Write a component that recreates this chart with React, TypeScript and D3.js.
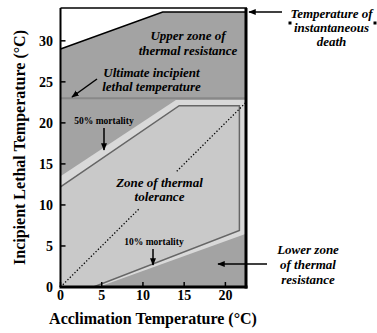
import React from "react";
import * as d3 from "d3";

// axis ticks
const xTicks = [0, 5, 10, 15, 20];
const yTicks = [0, 5, 10, 15, 20, 25, 30];
const xMax = 22.5;
const yMax = 34;

// zone boundaries (acclimation temp, lethal temp)
const upperZone: [number, number][] = [[0, 29.0], [12.4, 33.5], [22.5, 33.5]];
const ultimateLethal = 23.0;
const toleranceOuter: [number, number][] = [[0, 13.5], [14.0, 22.8], [22.5, 22.8], [22.5, 6.5], [4.6, 0], [0, 0]];
const mortality50: [number, number][] = [[0, 12.2], [14.4, 22.1], [21.7, 22.1], [21.7, 6.9]];
const mortality10: [number, number][] = [[21.7, 6.9], [4.0, 0]];
// dotted 1:1 line, broken where the label sits
const isoSegments: [number, number][][] = [[[0, 0], [9.6, 9.6]], [[14.1, 14.1], [22.8, 22.8]]];

const serif = "'Liberation Serif', 'Times New Roman', serif";

export default function App() {
  const x = d3.scaleLinear().domain([0, xMax]).range([60.5, 246]);
  const y = d3.scaleLinear().domain([0, yMax]).range([287, 8]);
  const line = d3.line<[number, number]>().x(d => x(d[0])).y(d => y(d[1]));

  const whiteTop: [number, number][] = [...upperZone, [xMax, yMax], [0, yMax]];
  const inner: [number, number][] = [...mortality50, ...mortality10, [0, 0]];
  const mortPath: [number, number][] = [...mortality50, ...mortality10.slice(1)];

  const bi = { fontFamily: serif, fontWeight: "bold", fontStyle: "italic", fontSize: 13 } as const;
  const small = { fontFamily: serif, fontWeight: "bold", fontSize: 9.5 } as const;

  return (
    <svg width={377} height={333} style={{ position: "absolute", left: 0, top: 0, background: "#fff" }}>
      <defs>
        <clipPath id="plot">
          <rect x={x(0)} y={y(yMax)} width={x(xMax) - x(0)} height={y(0) - y(yMax)} />
        </clipPath>
        <marker id="ah" viewBox="0 0 10 10" refX="9" refY="5" markerWidth="5" markerHeight="5" orient="auto">
          <path d="M0,1 L10,5 L0,9 Z" fill="#000" />
        </marker>
      </defs>

      <g clipPath="url(#plot)">
        <rect x={x(0)} y={y(yMax)} width={x(xMax) - x(0)} height={y(0) - y(yMax)} fill="#a3a3a3" />
        <path d={line(whiteTop) + "Z"} fill="#fff" />
        <path d={line(upperZone) || ""} fill="none" stroke="#000" strokeWidth={1.5} />
        <line x1={x(0)} x2={x(xMax)} y1={y(ultimateLethal)} y2={y(ultimateLethal)} stroke="#888" strokeWidth={1.8} />
        <path d={line(toleranceOuter) + "Z"} fill="#d9d9d9" />
        <path d={line(inner) + "Z"} fill="#c9c9c9" />
        <path d={line(mortPath) || ""} fill="none" stroke="#666" strokeWidth={1.5} />
        {isoSegments.map((s, i) => (
          <path key={i} d={line(s) || ""} fill="none" stroke="#000" strokeWidth={1.3} strokeDasharray="1.3,2" />
        ))}
      </g>

      {/* ticks, pointing inward */}
      {yTicks.map(t => (
        <g key={"y" + t}>
          <line x1={x(0)} x2={x(0) + 5} y1={y(t)} y2={y(t)} stroke="#000" strokeWidth={1.5} />
          <text x={53} y={y(t)} dy="0.35em" textAnchor="end" fontFamily={serif} fontWeight="bold" fontSize={14}>{t}</text>
        </g>
      ))}
      {xTicks.map(t => (
        <g key={"x" + t}>
          <line x1={x(t)} x2={x(t)} y1={y(0)} y2={y(0) - 5} stroke="#000" strokeWidth={1.5} />
          <text x={x(t)} y={300} textAnchor="middle" fontFamily={serif} fontWeight="bold" fontSize={14}>{t}</text>
        </g>
      ))}

      {/* frame */}
      <line x1={x(0)} x2={x(0)} y1={y(yMax)} y2={y(0)} stroke="#000" strokeWidth={2} />
      <line x1={x(0)} x2={x(xMax) + 1} y1={y(yMax)} y2={y(yMax)} stroke="#000" strokeWidth={1.5} />
      <line x1={x(xMax)} x2={x(xMax)} y1={y(yMax)} y2={y(0) + 1.5} stroke="#000" strokeWidth={3} />
      <line x1={x(0) - 1} x2={x(xMax) + 1.5} y1={y(0)} y2={y(0)} stroke="#000" strokeWidth={3} />

      {/* axis titles */}
      <text transform="translate(25,147.5) rotate(-90)" textAnchor="middle" fontFamily={serif} fontWeight="bold" fontSize={16}>
        Incipient Lethal Temperature (°C)
      </text>
      <text x={153} y={324} textAnchor="middle" fontFamily={serif} fontWeight="bold" fontSize={16}>
        Acclimation Temperature (°C)
      </text>

      {/* zone labels */}
      <text x={188} y={39.5} textAnchor="middle" {...bi}>Upper zone of</text>
      <text x={188} y={55} textAnchor="middle" {...bi}>thermal resistance</text>

      <text x={151.5} y={76.5} textAnchor="middle" {...bi}>Ultimate incipient</text>
      <text x={151.5} y={91} textAnchor="middle" {...bi}>lethal temperature</text>
      <line x1={97} y1={79} x2={72} y2={97} stroke="#000" strokeWidth={1.5} markerEnd="url(#ah)" />

      <text x={104} y={124} textAnchor="middle" {...small}>50% mortality</text>
      <line x1={104} y1={128} x2={104} y2={150} stroke="#000" strokeWidth={1.5} markerEnd="url(#ah)" />

      <text x={159.5} y={187} textAnchor="middle" {...bi}>Zone of thermal</text>
      <text x={159.5} y={201} textAnchor="middle" {...bi}>tolerance</text>

      <text x={154} y={245} textAnchor="middle" {...small}>10% mortality</text>
      <line x1={153} y1={249} x2={153} y2={265} stroke="#000" strokeWidth={1.5} markerEnd="url(#ah)" />

      <text x={331.5} y={18} textAnchor="middle" {...bi}>Temperature of</text>
      <text x={331.5} y={32} textAnchor="middle" {...bi}>instantaneous</text>
      <text x={331.5} y={46} textAnchor="middle" {...bi}>death</text>
      <rect x={288.5} y={21.5} width={3} height={3} fill="#000" />
      <rect x={373.5} y={21.5} width={3} height={3} fill="#000" />
      <line x1={282} y1={12} x2={249} y2={12} stroke="#000" strokeWidth={1.5} markerEnd="url(#ah)" />

      <text x={308} y={254} textAnchor="middle" {...bi}>Lower zone</text>
      <text x={308} y={269} textAnchor="middle" {...bi}>of thermal</text>
      <text x={308} y={284} textAnchor="middle" {...bi}>resistance</text>
      <line x1={267} y1={264} x2={218} y2={264} stroke="#000" strokeWidth={1.5} markerEnd="url(#ah)" />
    </svg>
  );
}
